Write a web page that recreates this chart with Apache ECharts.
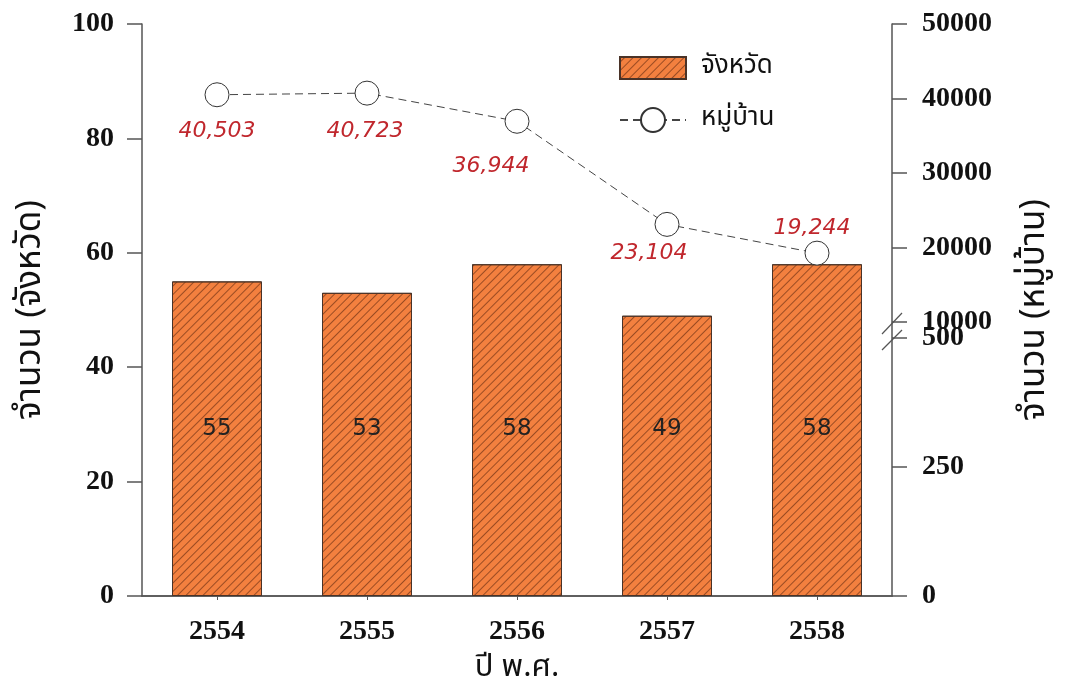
<!DOCTYPE html>
<html><head><meta charset="utf-8">
<script src="https://cdn.jsdelivr.net/npm/echarts@6/dist/echarts.min.js"></script>
<style>html,body{margin:0;padding:0;background:#fff}#c{width:1067px;height:695px}</style>
</head><body><div id="c"></div>
<script>
// ---- data ----
const years = ['2554', '2555', '2556', '2557', '2558'];
const provinces = [55, 53, 58, 49, 58];
const villages = [40503, 40723, 36944, 23104, 19244];
const leftTicks = { min: 0, max: 100, interval: 20 };
const rightUpperTicks = { min: 10000, max: 50000, interval: 10000 };
const rightLowerTicks = { min: 0, max: 500, interval: 250 };
const seriesNames = ['จังหวัด', 'หมู่บ้าน'];
const titleX = 'ปี พ.ศ.';
const titleLeft = 'จำนวน (จังหวัด)';
const titleRight = 'จำนวน (หมู่บ้าน)';

// ---- styles ----
const labelOffsets = [[0, 37], [-2, 38], [-26, 45], [-18, 29], [-5, -25]];
const axisColor = '#555';
const tickFont = { fontFamily: 'Liberation Serif', fontWeight: 'bold', fontSize: 28, color: '#111' };
const thaiFont = 'Tahoma, "Noto Sans Thai", "Noto Sans", sans-serif';

const chart = echarts.init(document.getElementById('c'), null, { renderer: 'canvas' });
const gridL = 142, gridR = 175;
const axisLineStyle = { lineStyle: { color: axisColor, width: 1.5 } };
const plain = v => String(v);

chart.setOption({
  animation: false,
  backgroundColor: '#fff',
  grid: [
    { left: gridL, right: gridR, top: 24, bottom: 99 },
    { left: gridL, right: gridR, top: 24, height: 298 },
    { left: gridL, right: gridR, top: 338, bottom: 99 }
  ],
  legend: {
    orient: 'vertical', left: 614, top: 50,
    itemWidth: 66, itemHeight: 30, itemGap: 26,
    symbolKeepAspect: true,
    data: [
      { name: seriesNames[0], icon: 'path://M0,0L66,0L66,22L0,22Z' },
      { name: seriesNames[1] }
    ],
    textStyle: { fontFamily: thaiFont, fontSize: 26, color: '#111', padding: [0, 0, 0, 10] }
  },
  xAxis: [
    {
      gridIndex: 0, type: 'category', data: years, position: 'bottom',
      axisLine: axisLineStyle,
      axisTick: { show: true, alignWithLabel: true, length: 4, lineStyle: { color: axisColor } },
      axisLabel: Object.assign({ margin: 22 }, tickFont),
      name: titleX, nameLocation: 'middle', nameGap: 58,
      nameTextStyle: { fontFamily: thaiFont, fontSize: 31, color: '#111' }
    },
    {
      gridIndex: 0, type: 'category', data: years, position: 'top',
      axisLine: axisLineStyle, axisTick: { show: false }, axisLabel: { show: false }
    },
    { gridIndex: 1, type: 'category', data: years, show: false },
    { gridIndex: 2, type: 'category', data: years, show: false }
  ],
  yAxis: [
    {
      gridIndex: 0, type: 'value', position: 'left',
      min: leftTicks.min, max: leftTicks.max, interval: leftTicks.interval,
      axisLine: Object.assign({ show: true }, axisLineStyle),
      axisTick: { show: true, length: 15, lineStyle: { color: axisColor, width: 1.5 } },
      axisLabel: Object.assign({ margin: 28, formatter: plain }, tickFont),
      splitLine: { show: false },
      name: titleLeft, nameLocation: 'middle', nameGap: 92, nameRotate: 90,
      nameTextStyle: { fontFamily: thaiFont, fontSize: 35, color: '#111' }
    },
    {
      gridIndex: 0, type: 'value', position: 'right', min: 0, max: 1,
      axisLine: Object.assign({ show: true }, axisLineStyle),
      axisTick: { show: false }, axisLabel: { show: false }, splitLine: { show: false },
      name: titleRight, nameLocation: 'middle', nameGap: 127, nameRotate: 90,
      nameTextStyle: { fontFamily: thaiFont, fontSize: 35, color: '#111' }
    },
    {
      gridIndex: 1, type: 'value', position: 'right',
      min: rightUpperTicks.min, max: rightUpperTicks.max, interval: rightUpperTicks.interval,
      axisLine: { show: false },
      axisTick: { show: true, length: 15, lineStyle: { color: axisColor, width: 1.5 } },
      axisLabel: Object.assign({ margin: 30, formatter: plain }, tickFont),
      splitLine: { show: false }
    },
    {
      gridIndex: 2, type: 'value', position: 'right',
      min: rightLowerTicks.min, max: rightLowerTicks.max, interval: rightLowerTicks.interval,
      axisLine: { show: false },
      axisTick: { show: true, length: 15, lineStyle: { color: axisColor, width: 1.5 } },
      axisLabel: Object.assign({ margin: 30, formatter: plain }, tickFont),
      splitLine: { show: false }
    }
  ],
  series: [
    {
      name: seriesNames[0], type: 'bar', xAxisIndex: 0, yAxisIndex: 0,
      data: provinces, barWidth: '60%',
      itemStyle: {
        color: '#F3803F', borderColor: '#4a3328', borderWidth: 1,
        decal: {
          symbol: 'rect', symbolSize: 1,
          dashArrayX: [1, 0], dashArrayY: [1, 5],
          rotation: -Math.PI / 4,
          color: 'rgba(95,40,15,0.6)'
        }
      },
      label: {
        show: true, position: 'insideBottom', distance: 155,
        fontFamily: 'DejaVu Sans', fontSize: 23, color: '#222'
      },
      z: 2
    },
    {
      name: seriesNames[1], type: 'line', xAxisIndex: 2, yAxisIndex: 2,
      data: villages.map((v, i) => ({
        value: v,
        label: { offset: labelOffsets[i] }
      })),
      symbol: 'circle', symbolSize: 24,
      lineStyle: { color: '#444', width: 1, type: [8, 5] },
      itemStyle: { color: '#fff', borderColor: '#333', borderWidth: 1 },
      label: {
        show: true, position: 'inside',
        formatter: p => p.value.toLocaleString('en-US'),
        fontFamily: 'DejaVu Sans', fontStyle: 'italic', fontSize: 22, color: '#C0272D'
      },
      z: 5
    }
  ],
  graphic: [
    { type: 'line', shape: { x1: 882, y1: 334, x2: 902, y2: 313 }, style: { stroke: axisColor, lineWidth: 1.2 }, z: 10 },
    { type: 'line', shape: { x1: 882, y1: 350, x2: 902, y2: 330 }, style: { stroke: axisColor, lineWidth: 1.2 }, z: 10 }
  ]
});
</script>
</body></html>
